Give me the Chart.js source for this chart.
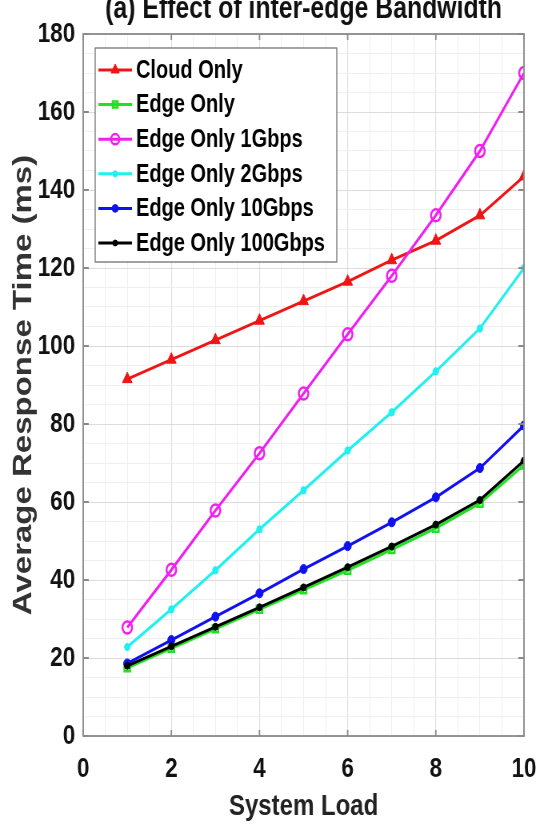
<!DOCTYPE html>
<html>
<head>
<meta charset="utf-8">
<script src="https://cdn.jsdelivr.net/npm/chart.js"></script>
<style>
  html, body { margin: 0; padding: 0; background: #fff; overflow: hidden; }
  /* the figure is squeezed sideways, so draw wider and squash */
  #wrap { width: 676px; height: 826px; transform: scaleX(0.8); transform-origin: 0 0; }
</style>
</head>
<body>
<div id="wrap"><canvas id="chart" width="676" height="826"></canvas></div>
<script>
var loads = [1, 2, 3, 4, 5, 6, 7, 8, 9, 10];
var cloudOnly = [91.5, 96.5, 101.5, 106.5, 111.5, 116.5, 122, 127, 133.5, 143.5];
var edgeOnly = [17.5, 22.5, 27.5, 32.5, 37.5, 42.5, 47.8, 53.3, 59.7, 69.5];
var edge1G = [27.8, 42.6, 57.8, 72.5, 87.8, 103, 118, 133.5, 150, 170];
var edge2G = [22.8, 32.5, 42.5, 53, 63, 73.2, 83, 93.5, 104.5, 120];
var edge10G = [18.6, 24.6, 30.6, 36.6, 42.8, 48.7, 54.8, 61.2, 68.7, 79.6];
var edge100G = [18, 23, 28, 33, 38.1, 43.3, 48.6, 54.2, 60.5, 70.6];
var xTicks = [0, 2, 4, 6, 8, 10];
var yTicks = [0, 20, 40, 60, 80, 100, 120, 140, 160, 180];

var sans = '"Liberation Sans", Arial, sans-serif';

function pts(arr) {
  return arr.map(function (v, i) { return { x: loads[i], y: v }; });
}

function serie(label, data, color, style, radius, filled, order) {
  return {
    label: label,
    data: pts(data),
    borderColor: color,
    backgroundColor: filled ? color : 'rgba(0,0,0,0)',
    pointStyle: style,
    pointRadius: radius,
    pointBorderWidth: filled ? 1 : 2.5,
    pointBackgroundColor: filled ? color : 'rgba(0,0,0,0)',
    pointBorderColor: color,
    borderWidth: 3,
    tension: 0,
    order: order
  };
}

// extra bits: title, frame, inward ticks, legend box
var extras = {
  id: 'extras',
  afterDatasetsDraw: function (chart) {
    var ctx = chart.ctx;
    var a = chart.chartArea;
    var xs = chart.scales.x, ys = chart.scales.y;
    ctx.save();
    ctx.strokeStyle = '#8a8a8a';
    ctx.lineWidth = 1.8;
    ctx.strokeRect(a.left, a.top, a.right - a.left, a.bottom - a.top);
    ctx.beginPath();
    xTicks.forEach(function (t) {
      var px = xs.getPixelForValue(t);
      ctx.moveTo(px, a.bottom); ctx.lineTo(px, a.bottom - 6);
      ctx.moveTo(px, a.top); ctx.lineTo(px, a.top + 6);
    });
    yTicks.forEach(function (t) {
      var py = ys.getPixelForValue(t);
      ctx.moveTo(a.left, py); ctx.lineTo(a.left + 7, py);
      ctx.moveTo(a.right, py); ctx.lineTo(a.right - 7, py);
    });
    ctx.stroke();

    // legend
    var bx = 119, by = 48, bw = 302, bh = 214;
    ctx.fillStyle = '#fff';
    ctx.fillRect(bx, by, bw, bh);
    ctx.strokeStyle = '#666';
    ctx.lineWidth = 1.2;
    ctx.strokeRect(bx, by, bw, bh);
    ctx.font = 'bold 25px ' + sans;
    ctx.textAlign = 'left';
    ctx.textBaseline = 'middle';
    chart.data.datasets.forEach(function (ds, i) {
      var cy = 70 + i * 34.6;
      ctx.strokeStyle = ds.borderColor;
      ctx.lineWidth = 3;
      ctx.beginPath();
      ctx.moveTo(123, cy); ctx.lineTo(165, cy);
      ctx.stroke();
      if (Chart.helpers && Chart.helpers.drawPoint) {
        ctx.fillStyle = ds.pointBackgroundColor;
        ctx.strokeStyle = ds.pointBorderColor;
        ctx.lineWidth = ds.pointBorderWidth;
        Chart.helpers.drawPoint(ctx, { pointStyle: ds.pointStyle, radius: ds.pointRadius * 0.85, rotation: 0, borderWidth: ds.pointBorderWidth }, 144, cy);
      }
      ctx.fillStyle = '#000';
      ctx.fillText(ds.label, 170, cy + 1);
    });

    // title, its top cut off by the page edge as in the figure
    ctx.font = 'bold 31px ' + sans;
    ctx.textAlign = 'center';
    ctx.textBaseline = 'alphabetic';
    ctx.fillStyle = '#111';
    ctx.fillText('(a) Effect of inter-edge Bandwidth', (a.left + a.right) / 2, 18);
    ctx.restore();
  }
};

var ctx = document.getElementById('chart').getContext('2d');
var myChart = new Chart(ctx, {
  type: 'line',
  data: {
    datasets: [
      serie('Cloud Only', cloudOnly, '#f01414', 'triangle', 7, true, 6),
      serie('Edge Only', edgeOnly, '#22e022', 'rect', 5, false, 5),
      serie('Edge Only 1Gbps', edge1G, '#f020f0', 'circle', 6, false, 4),
      serie('Edge Only 2Gbps', edge2G, '#20f0f0', 'star', 4, false, 3),
      serie('Edge Only 10Gbps', edge10G, '#1010f0', 'circle', 4.5, true, 2),
      serie('Edge Only 100Gbps', edge100G, '#000000', 'circle', 3.5, true, 1)
    ]
  },
  options: {
    responsive: false,
    animation: false,
    layout: { padding: { top: 34, right: 21, left: 0, bottom: 0 } },
    plugins: {
      legend: { display: false },
      tooltip: { enabled: false }
    },
    scales: {
      x: {
        type: 'linear',
        min: 0,
        max: 10,
        afterFit: function (s) { s.height = 90; s.paddingLeft = 0; s.paddingRight = 0; },
        afterBuildTicks: function (s) {
          var t = [];
          for (var i = 0; i <= 20; i++) t.push({ value: i * 0.5 });
          s.ticks = t;
        },
        ticks: {
          autoSkip: false,
          maxRotation: 0,
          padding: 16,
          color: '#111',
          font: { family: sans, size: 28, weight: 'bold' },
          callback: function (v) { return xTicks.indexOf(v) >= 0 ? String(v) : ''; }
        },
        grid: {
          drawTicks: false,
          color: function (c) { return c.tick && xTicks.indexOf(c.tick.value) >= 0 ? '#dcdcdc' : '#efefef'; }
        },
        border: { display: false },
        title: {
          display: true,
          text: 'System Load',
          color: '#222',
          font: { family: sans, size: 30, weight: 'bold' },
          padding: { top: 0, bottom: 1 }
        }
      },
      y: {
        type: 'linear',
        min: 0,
        max: 180,
        afterFit: function (s) { s.width = 104; },
        afterBuildTicks: function (s) {
          var t = [];
          for (var i = 0; i <= 36; i++) t.push({ value: i * 5 });
          s.ticks = t;
        },
        ticks: {
          autoSkip: false,
          padding: 10,
          color: '#111',
          font: { family: sans, size: 28, weight: 'bold' },
          callback: function (v) { return yTicks.indexOf(v) >= 0 ? String(v) : ''; }
        },
        grid: {
          drawTicks: false,
          color: function (c) { return c.tick && yTicks.indexOf(c.tick.value) >= 0 ? '#dcdcdc' : '#efefef'; }
        },
        border: { display: false },
        title: {
          display: true,
          text: 'Average Response Time (ms)',
          color: '#333',
          font: { family: sans, size: 33, weight: 'bold' },
          padding: { top: 10, bottom: 0 }
        }
      }
    }
  },
  plugins: [extras]
});
</script>
</body>
</html>
